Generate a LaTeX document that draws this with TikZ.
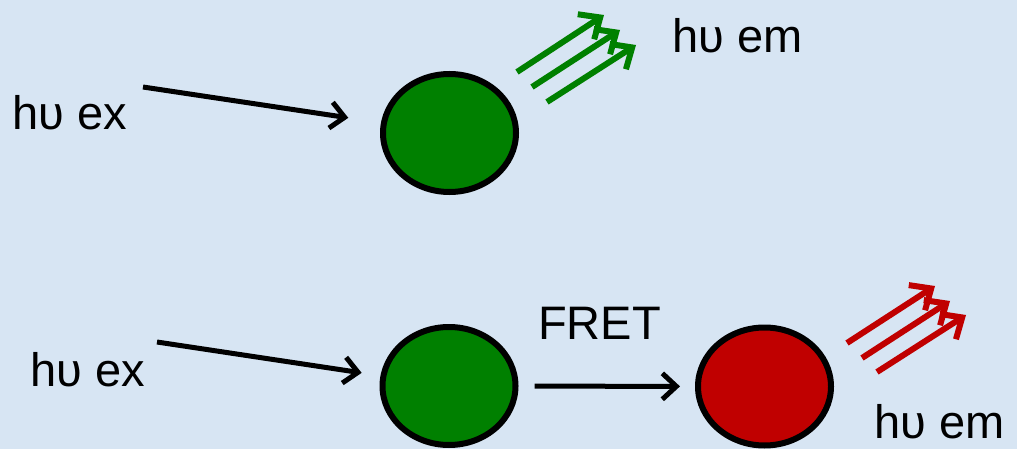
\documentclass[tikz,border=0pt]{standalone}
\usepackage{fontspec}
\setmainfont{Liberation Sans}
\usetikzlibrary{shapes.geometric,arrows.meta}
\definecolor{bg}{RGB}{215,229,243}
\definecolor{dgreen}{RGB}{0,128,0}
\definecolor{dred}{RGB}{192,0,0}
\begin{document}
\begin{tikzpicture}[x=1pt,y=-1pt,
  lbl/.style={anchor=base west,inner sep=0pt,font=\fontsize{47}{56}\selectfont},
  blob/.style={ellipse,draw=black,line width=6pt,minimum width=133pt,minimum height=118pt,inner sep=0pt},
  exarrow/.style={line width=5pt,-{Straight Barb[length=14pt,width=26pt]}},
  emit/.style={line width=6pt,-{Straight Barb[length=17pt,width=30pt]}}]
\fill[bg] (0,0) rectangle (1017,449);
\useasboundingbox (0,0) rectangle (1017,449);
% top row
\node[blob,fill=dgreen] (g1) at (449.5,133) {};
\node[lbl] (ex1) at (12,130) {hυ ex};
\node[lbl] (em1) at (672,53) {hυ em};
\coordinate (s1) at (143,87);
\draw[exarrow,shorten >=33pt] (s1) -- (g1);
\coordinate (a1) at (517,72); \coordinate (b1) at (604,15);
\coordinate (a2) at (532,87); \coordinate (b2) at (620,30);
\coordinate (a3) at (547,102); \coordinate (b3) at (636,45);
\draw[emit,dgreen] (a1) -- (b1);
\draw[emit,dgreen] (a2) -- (b2);
\draw[emit,dgreen] (a3) -- (b3);
% bottom row
\node[blob,fill=dgreen] (g2) at (449,386) {};
\node[blob,fill=dred] (r) at (764.5,386.5) {};
\node[lbl] (ex2) at (30,386) {hυ ex};
\node[lbl] (fret) at (538,339) {FRET};
\node[lbl] (em2) at (874,438) {hυ em};
\coordinate (s2) at (157,342);
\draw[exarrow,shorten >=19pt] (s2) -- (g2);
\draw[exarrow,shorten <=16pt,shorten >=15pt] (g2) -- (r);
\coordinate (c1) at (847,343); \coordinate (d1) at (935,286);
\coordinate (c2) at (862,358); \coordinate (d2) at (950,301);
\coordinate (c3) at (877,372); \coordinate (d3) at (966,315);
\draw[emit,dred] (c1) -- (d1);
\draw[emit,dred] (c2) -- (d2);
\draw[emit,dred] (c3) -- (d3);
\end{tikzpicture}
\end{document}
